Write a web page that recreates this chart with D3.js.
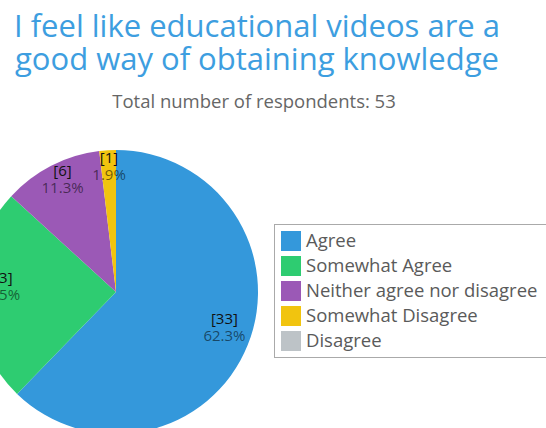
<!DOCTYPE html>
<html>
<head>
<meta charset="utf-8">
<script src="https://cdn.jsdelivr.net/npm/d3@7"></script>
<style>
  body { margin: 0; background: #fff; }
  svg { display: block; font-family: 'Open Sans', sans-serif; }
</style>
</head>
<body>
<svg width="546" height="428"></svg>
<script>
// survey answers, in the order they appear in the legend
var categories = ['Agree', 'Somewhat Agree', 'Neither agree nor disagree', 'Somewhat Disagree', 'Disagree'];
var counts = [33, 13, 6, 1, 0];
var colors = ['#3498db', '#2ecc71', '#9b59b6', '#f1c40f', '#bdc3c7'];
var titleLines = ['I feel like educational videos are a', 'good way of obtaining knowledge'];

var total = d3.sum(counts);
var data = categories.map(function (c, i) {
    return { name: c, count: counts[i] };
});

var svg = d3.select('svg');

// title + subtitle
svg.selectAll('.title')
    .data(titleLines)
    .enter().append('text')
    .attr('class', 'title')
    .attr('x', 257)
    .attr('y', function (d, i) { return 37 + i * 33; })
    .attr('text-anchor', 'middle')
    .style('font-size', '31px')
    .style('fill', '#3d9ee0')
    .text(function (d) { return d; });

svg.append('text')
    .attr('x', 254)
    .attr('y', 108)
    .attr('text-anchor', 'middle')
    .style('font-size', '18.5px')
    .style('fill', '#666')
    .text('Total number of respondents: ' + total);

// pie
var radius = 142;
var color = d3.scaleOrdinal().domain(categories).range(colors);

var pie = d3.pie().sort(null).value(function (d) { return d.count; });
var arc = d3.arc().innerRadius(0).outerRadius(radius);
var labelArc = d3.arc().innerRadius(117).outerRadius(117);

var pieG = svg.append('g')
    .attr('transform', 'translate(116, 292)');

var slices = pie(data).filter(function (d) { return d.data.count > 0; });

pieG.selectAll('path')
    .data(slices)
    .enter().append('path')
    .attr('d', arc)
    .attr('fill', function (d) { return color(d.data.name); });

var labels = pieG.selectAll('.label')
    .data(slices)
    .enter().append('g')
    .attr('class', 'label')
    .attr('transform', function (d) {
        return 'translate(' + labelArc.centroid(d) + ')';
    });

labels.append('text')
    .attr('y', -12)
    .attr('text-anchor', 'middle')
    .style('font-size', '15px')
    .style('fill', '#111')
    .text(function (d) { return '[' + d.data.count + ']'; });

labels.append('text')
    .attr('y', 5)
    .attr('text-anchor', 'middle')
    .style('font-size', '15px')
    .style('fill', '#000')
    .style('fill-opacity', 0.55)
    .text(function (d) { return (d.data.count / total * 100).toFixed(1) + '%'; });

// legend
var legend = svg.append('g')
    .attr('transform', 'translate(274, 224)');

legend.append('rect')
    .attr('x', 0.5)
    .attr('y', 0.5)
    .attr('width', 290)
    .attr('height', 133)
    .attr('fill', '#fff')
    .attr('stroke', '#aaa');

var item = legend.selectAll('.item')
    .data(categories)
    .enter().append('g')
    .attr('class', 'item')
    .attr('transform', function (d, i) { return 'translate(7,' + (7 + i * 25) + ')'; });

item.append('rect')
    .attr('width', 20)
    .attr('height', 20)
    .attr('fill', function (d) { return color(d); });

item.append('text')
    .attr('x', 25)
    .attr('y', 16)
    .style('font-size', '18.5px')
    .style('fill', '#5a5a5a')
    .text(function (d) { return d; });
</script>
</body>
</html>
